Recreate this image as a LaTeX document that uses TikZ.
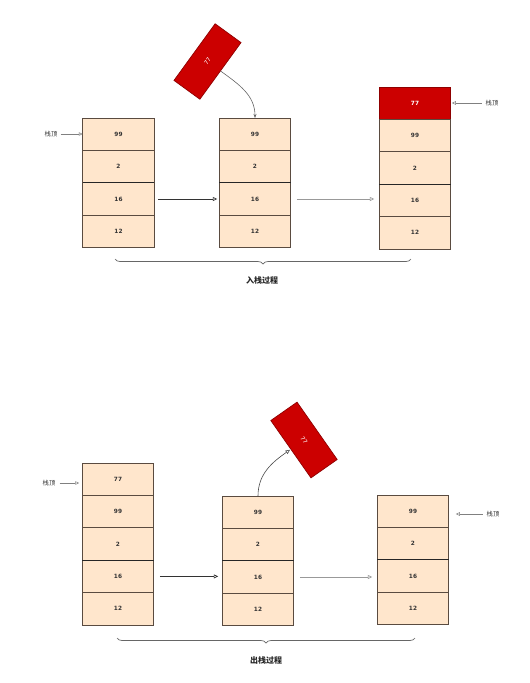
\documentclass[tikz,border=0pt]{standalone}
\usepackage{fontspec}
\setmainfont{DejaVu Sans}
\newfontfamily\cjk{Noto Sans CJK SC}
\usetikzlibrary{arrows.meta,positioning,decorations.pathreplacing}
\definecolor{cellfill}{HTML}{FFE6CC}
\definecolor{cellline}{HTML}{5A4B40}
\definecolor{redfill}{HTML}{CC0000}
\definecolor{redline}{HTML}{8F0000}
\tikzset{
  cell/.style={draw=cellline, fill=cellfill, line width=0.7pt, minimum width=71.5pt, minimum height=32.4pt,
    inner sep=0pt, outer sep=0pt, font=\fontsize{5.8}{7}\selectfont\bfseries, text=black!80},
  redcell/.style={cell, fill=redfill, draw=redline, text=white},
  redbox/.style={draw=redline, fill=redfill, line width=0.7pt, minimum width=70pt, minimum height=32pt,
    inner sep=0pt, outer sep=0pt, font=\fontsize{5.8}{7}\selectfont, text=white},
  toplabel/.style={font=\cjk\fontsize{6.3}{7}\selectfont, text=black!80, inner sep=0pt},
  title/.style={font=\cjk\fontsize{8}{9}\selectfont\bfseries, text=black!85, inner sep=0pt},
  ptr/.style={draw=black!50, line width=0.5pt, -{Triangle[open, length=4pt, width=3.5pt]}},
  move/.style={line width=0.7pt, -{Triangle[open, length=4.5pt, width=4pt]}},
  sep/.style={line width=1.1pt, draw=black!85},
  grp/.style={draw=black!60, line width=0.7pt, decorate, decoration={brace, mirror, amplitude=5pt}},
}
\begin{document}
\begin{tikzpicture}[x=1pt,y=1pt]
\useasboundingbox (0,0) rectangle (530,-683);
\fill[white] (0,0) rectangle (530,-683);

% ---------- push ----------
\node[cell, anchor=north] (a1) at (118.5,-118) {99};
\node[cell, below=0pt of a1] (a2) {2};
\node[cell, below=0pt of a2] (a3) {16};
\node[cell, below=0pt of a3] (a4) {12};
\draw[sep] (a2.south west) -- (a2.south east);

\node[cell, anchor=north] (b1) at (255,-118) {99};
\node[cell, below=0pt of b1] (b2) {2};
\node[cell, below=0pt of b2] (b3) {16};
\node[cell, below=0pt of b3] (b4) {12};
\draw[sep] (b2.south west) -- (b2.south east);

\node[redcell, anchor=north] (c0) at (415,-87) {77};
\node[cell, below=0pt of c0] (c1) {99};
\node[cell, below=0pt of c1] (c2) {2};
\node[cell, below=0pt of c2] (c3) {16};
\node[cell, below=0pt of c3] (c4) {12};
\draw[sep] (c2.south west) -- (c2.south east);

\node[redbox, rotate=54] (r1) at (207.5,-61.5) {77};
\draw[draw=black!60, line width=0.6pt, -{Stealth[length=4pt, width=3pt]}]
  (r1.south) to[out=-36, in=90] (b1.north);

\node[toplabel] (la) at (51,-134) {栈顶};
\draw[ptr] ([xshift=3pt]la.east) -- (la.east -| a1.west);
\node[toplabel] (lc) at (492,-103) {栈顶};
\draw[ptr, shorten >=1pt] ([xshift=-4pt]lc.west) -- (lc.west -| c0.east);

\draw[move, draw=black!80] ([xshift=4pt]a3.east) -- ([xshift=-2pt]a3.east -| b3.west);
\draw[move, draw=black!40] ([xshift=6pt]b3.east) -- ([xshift=-5pt]b3.east -| c3.west);

\coordinate (g1a) at (115,-259);
\coordinate (g1b) at (411,-259);
\draw[grp] (g1a) -- (g1b);
\node[title] (t1) at (262,-280) {入栈过程};

% ---------- pop ----------
\node[cell, anchor=north] (d0) at (118,-463) {77};
\node[cell, below=0pt of d0] (d1) {99};
\node[cell, below=0pt of d1] (d2) {2};
\node[cell, below=0pt of d2] (d3) {16};
\node[cell, below=0pt of d3] (d4) {12};
\draw[sep] (d2.south west) -- (d2.south east);

\node[cell, anchor=north] (e1) at (258,-496) {99};
\node[cell, below=0pt of e1] (e2) {2};
\node[cell, below=0pt of e2] (e3) {16};
\node[cell, below=0pt of e3] (e4) {12};
\draw[sep] (e2.south west) -- (e2.south east);

\node[cell, anchor=north] (f1) at (413,-495) {99};
\node[cell, below=0pt of f1] (f2) {2};
\node[cell, below=0pt of f2] (f3) {16};
\node[cell, below=0pt of f3] (f4) {12};
\draw[sep] (f2.south west) -- (f2.south east);

\node[redbox, rotate=-55] (r2) at (304,-440) {77};
\draw[draw=black!70, line width=0.6pt, -{Triangle[open, length=4.5pt, width=4pt]}, shorten >=1pt]
  (e1.north) to[out=90, in=-145] (r2.south);

\node[toplabel] (ld) at (49,-483) {栈顶};
\draw[ptr, shorten >=3pt] ([xshift=4pt]ld.east) -- (ld.east -| d0.west);
\node[toplabel] (lf) at (493,-514) {栈顶};
\draw[ptr, shorten >=7pt] ([xshift=-4pt]lf.west) -- (lf.west -| f1.east);

\draw[move, draw=black!80] ([xshift=6pt]d3.east) -- ([xshift=-4pt]d3.east -| e3.west);
\draw[move, draw=black!40] ([xshift=6pt]e3.east) -- ([xshift=-5pt]e3.east -| f3.west);

\coordinate (g2a) at (117,-638);
\coordinate (g2b) at (415,-638);
\draw[grp] (g2a) -- (g2b);
\node[title] (t2) at (266,-660) {出栈过程};
\end{tikzpicture}
\end{document}
